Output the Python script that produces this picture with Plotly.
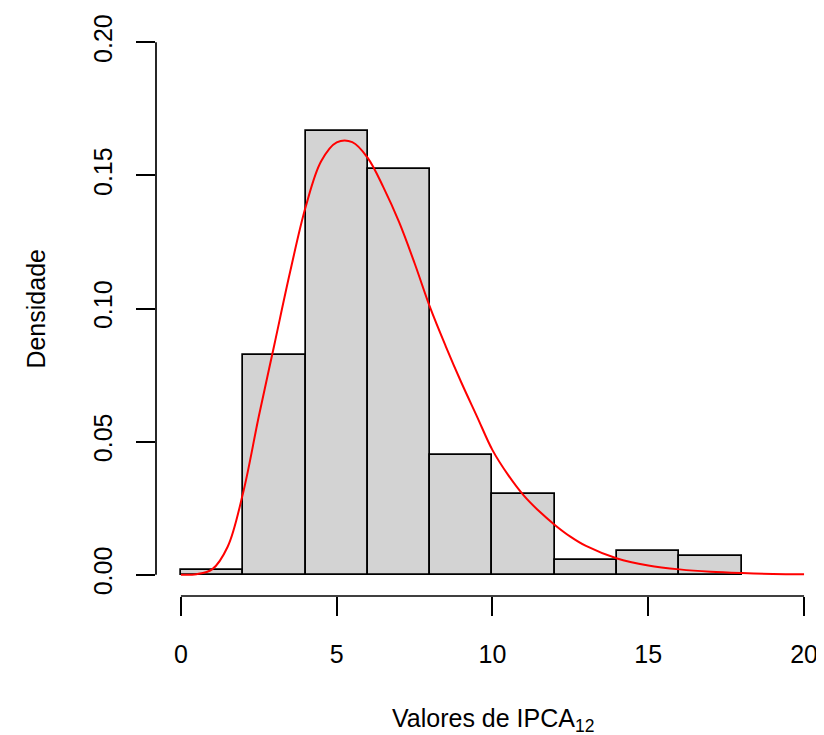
import plotly.graph_objects as go

# Histogram (density scale), bins of width 2
bin_left = [0, 2, 4, 6, 8, 10, 12, 14, 16]
bin_width = 2
density = [0.0018, 0.0824, 0.1667, 0.1523, 0.0448, 0.0305, 0.0054, 0.0090, 0.0072]

# Fitted density curve
curve_x = [0, 0.5, 1.0, 1.5, 2.0, 2.5, 3.0, 3.5, 4.0, 4.5, 5.0, 5.5, 6.0, 6.5, 7.0,
           7.5, 8.0, 8.5, 9.0, 9.5, 10.0, 10.5, 11.0, 11.5, 12.0, 12.5, 13.0,
           14.0, 15.0, 16.0, 17.0, 18.0, 19.0, 20.0]
curve_y = [0.0, 0.0002, 0.0020, 0.0105, 0.0310, 0.0595, 0.0865, 0.1135, 0.1380,
           0.1553, 0.1624, 0.1625, 0.1565, 0.1455, 0.1325, 0.1170, 0.1003, 0.0858,
           0.0722, 0.0595, 0.0468, 0.0375, 0.0298, 0.0238, 0.0187, 0.0143, 0.0108,
           0.0061, 0.0035, 0.0020, 0.0011, 0.0006, 0.0003, 0.0002]

x_ticks = [0, 5, 10, 15, 20]
y_ticks = [0.00, 0.05, 0.10, 0.15, 0.20]
y_tick_labels = ["0.00", "0.05", "0.10", "0.15", "0.20"]

FONT = "Liberation Sans, Arial, Helvetica, sans-serif"

mids = [l + bin_width / 2 for l in bin_left]

fig = go.Figure()
fig.add_trace(go.Bar(
    x=mids, y=density, width=[bin_width] * len(mids),
    marker=dict(color="#D3D3D3", line=dict(color="black", width=1.7)),
    hoverinfo="x+y", showlegend=False,
))
fig.add_trace(go.Scatter(
    x=curve_x, y=curve_y, mode="lines",
    line=dict(color="#FF0000", width=2, shape="spline", smoothing=1.0),
    showlegend=False,
))

# R-style axis lines spanning only the tick range
fig.add_shape(type="line", xref="paper", yref="y", x0=0, x1=0,
              y0=y_ticks[0], y1=y_ticks[-1], line=dict(color="black", width=1.7))
fig.add_shape(type="line", xref="x", yref="paper", x0=x_ticks[0], x1=x_ticks[-1],
              y0=0, y1=0, line=dict(color="black", width=1.7))

fig.add_annotation(text="Valores de IPCA<sub>12</sub>", xref="paper", yref="paper",
                   x=0.505, y=-0.215, showarrow=False, xanchor="center", yanchor="middle",
                   font=dict(family=FONT, size=25, color="black"))
fig.add_annotation(text="Densidade", xref="paper", yref="paper",
                   x=-0.181, y=0.5, showarrow=False, textangle=-90,
                   xanchor="center", yanchor="middle",
                   font=dict(family=FONT, size=25, color="black"))

fig.update_layout(
    width=816, height=727,
    margin=dict(l=148, r=0, t=13, b=139),
    paper_bgcolor="white", plot_bgcolor="white",
    bargap=0,
    font=dict(family=FONT, size=25, color="black"),
    xaxis=dict(range=[-0.8, 20.64], tickvals=x_ticks, ticktext=[str(v) for v in x_ticks],
               ticks="outside", ticklen=19, tickwidth=1.7, tickcolor="black",
               showline=False, showgrid=False, zeroline=False,
               ticklabelstandoff=17),
    yaxis=dict(range=[-0.008, 0.208], tickvals=y_ticks, ticktext=y_tick_labels,
               ticks="outside", ticklen=19, tickwidth=1.7, tickcolor="black",
               tickangle=-90,
               showline=False, showgrid=False, zeroline=False,
               ticklabelstandoff=14),
)

fig.write_html("out.html")
